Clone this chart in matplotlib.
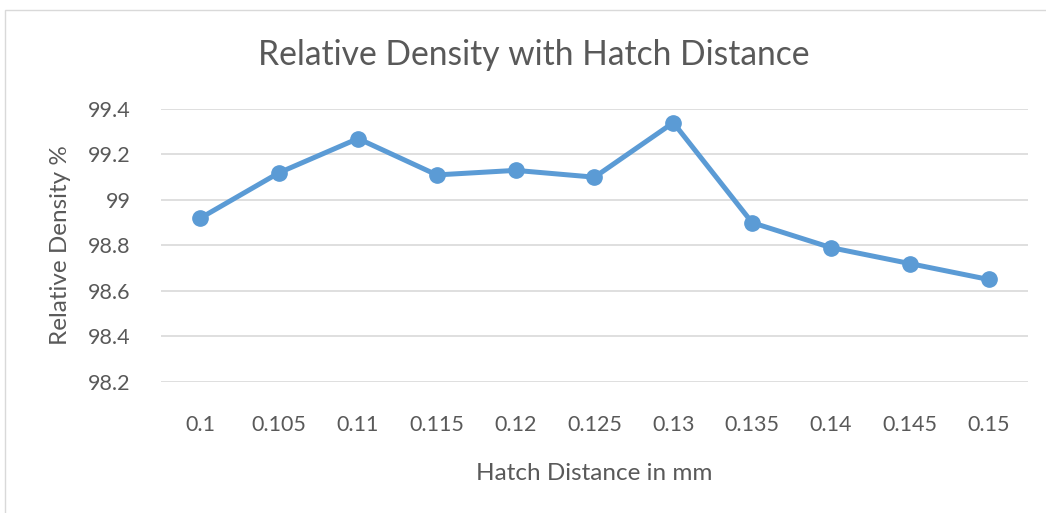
import numpy as np
import matplotlib.pyplot as plt
from matplotlib.patches import Rectangle

# --------------------------------------------------------------------------+
hatch = ['0.1', '0.105', '0.11', '0.115', '0.12', '0.125', '0.13',
         '0.135', '0.14', '0.145', '0.15']
density = [98.92, 99.12, 99.27, 99.11, 99.13, 99.10, 99.34,
           98.90, 98.79, 98.72, 98.65]
yticks = [98.2, 98.4, 98.6, 98.8, 99.0, 99.2, 99.4]
ylabels = ['98.2', '98.4', '98.6', '98.8', '99', '99.2', '99.4']

# --------------------------------------------------------------------------+
txt = '#595959'
blue = '#5B9BD5'
plt.rcParams['font.family'] = ['Lato', 'DejaVu Sans']

fig = plt.figure(figsize=(10.46, 5.13), dpi=100)
fig.patches.append(Rectangle((5/1046, -0.1), 1.2, 1 - 10/513 + 0.1,
                             transform=fig.transFigure, fill=False,
                             edgecolor='#D9D9D9', linewidth=1))
ax = fig.add_axes([0.1539, 0.2559, 0.8289, 0.5316])

x = np.arange(len(hatch))
ax.plot(x, density, color=blue, linewidth=3.6, marker='o', markersize=11,
        solid_joinstyle='round', zorder=3)

ax.set_xlim(-0.5, len(hatch) - 0.5)
ax.set_ylim(98.2, 99.4)
ax.set_yticks(yticks)
ax.set_yticklabels(ylabels)
ax.set_xticks(x)
ax.set_xticklabels(hatch)
ax.grid(axis='y', color='#D9D9D9', linewidth=1.2)
ax.set_axisbelow(True)
for s in ax.spines.values():
    s.set_visible(False)
ax.tick_params(length=0, labelsize=15.5, labelcolor=txt)
ax.tick_params(axis='y', pad=22)
ax.tick_params(axis='x', pad=24)

ax.set_xlabel('Hatch Distance in mm', fontsize=17.5, color=txt, labelpad=20)
ax.set_ylabel('Relative Density %', fontsize=17.5, color=txt, labelpad=12)
fig.text(0.51, 0.893, 'Relative Density with Hatch Distance', fontsize=24.2,
         color=txt, ha='center', va='center')

plt.savefig('out.png', dpi=100)
